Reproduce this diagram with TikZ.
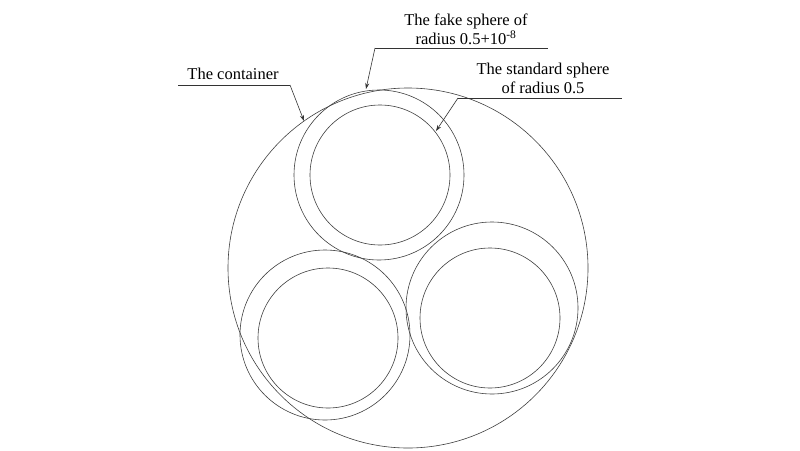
\documentclass[tikz,border=0pt]{standalone}
\usepackage{fontspec}
\usetikzlibrary{arrows.meta}
\setmainfont{Liberation Serif}
\begin{document}
\begin{tikzpicture}[x=1pt,y=-1pt,
  circ/.style={draw=black!75,line width=0.6pt},
  lbl/.style={font=\fontsize{16.5}{19}\selectfont,align=center,inner sep=1pt},
  lead/.style={draw=black!80,line width=0.6pt,-{Stealth[length=6pt,width=4pt]}}]
\useasboundingbox (0,0) rectangle (800,450);
\fill[white] (0,0) rectangle (800,450);
\draw[circ] (408,268) circle[radius=180];
\draw[circ] (379,175) circle[radius=85];
\draw[circ] (380,175) circle[radius=70];
\draw[circ] (325,335) circle[radius=85];
\draw[circ] (328,338) circle[radius=70];
\draw[circ] (492,308) circle[radius=86];
\draw[circ] (490,318) circle[radius=70];
\node[lbl,anchor=south] (c) at (233,81) {The container};
\coordinate (c1) at (178,85); \coordinate (c2) at (290,85);
\draw[black!80,line width=0.6pt] (c1) -- (c2);
\coordinate (ct) at (304,121);
\draw[lead] (c2) -- (ct);
\node[lbl,anchor=south] (f) at (466,46) {The fake sphere of\\radius 0.5+10\textsuperscript{-8}};
\coordinate (f1) at (375,48); \coordinate (f2) at (548,48);
\draw[black!80,line width=0.6pt] (f1) -- (f2);
\coordinate (ft) at (366,89);
\draw[lead] (f1) -- (ft);
\node[lbl,anchor=south] (s) at (543,95) {The standard sphere\\of radius 0.5};
\coordinate (s1) at (458,98); \coordinate (s2) at (622,98);
\draw[black!80,line width=0.6pt] (s1) -- (s2);
\coordinate (st) at (436,131);
\draw[lead] (s1) -- (st);
\end{tikzpicture}
\end{document}
